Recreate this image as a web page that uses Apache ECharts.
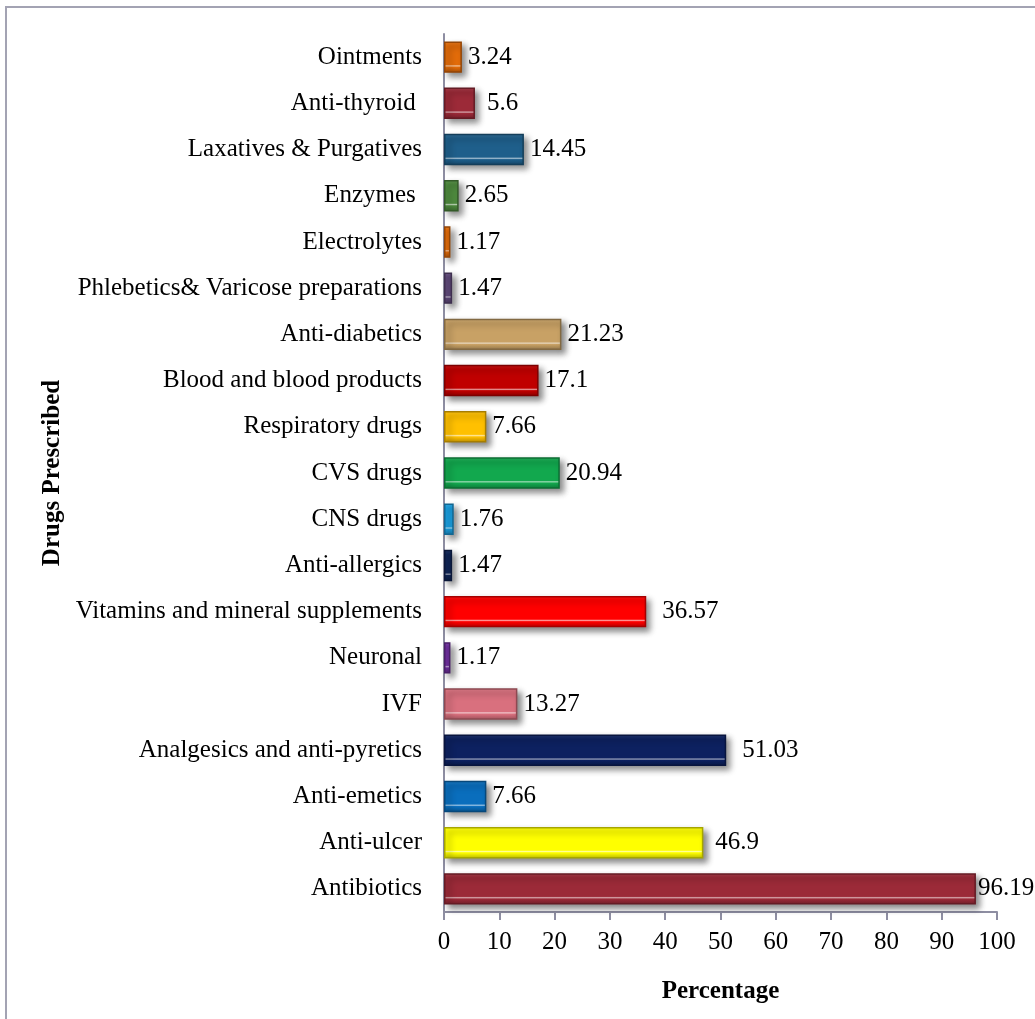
<!DOCTYPE html>
<html>
<head>
<meta charset="utf-8">
<script src="https://cdn.jsdelivr.net/npm/echarts@6/dist/echarts.min.js"></script>
<style>
  html, body { margin: 0; padding: 0; background: #fff; }
  #main { width: 1035px; height: 1019px; }
</style>
</head>
<body>
<div id="main"></div>
<script>
// categories from top to bottom as they appear in the chart
var categories = [
  'Ointments', 'Anti-thyroid ', 'Laxatives & Purgatives', 'Enzymes ', 'Electrolytes',
  'Phlebetics& Varicose preparations', 'Anti-diabetics', 'Blood and blood products',
  'Respiratory drugs', 'CVS drugs', 'CNS drugs', 'Anti-allergics',
  'Vitamins and mineral supplements', 'Neuronal', 'IVF', 'Analgesics and anti-pyretics',
  'Anti-emetics', 'Anti-ulcer', 'Antibiotics'
];
var percentages = [3.24, 5.6, 14.45, 2.65, 1.17, 1.47, 21.23, 17.1, 7.66, 20.94, 1.76, 1.47,
  36.57, 1.17, 13.27, 51.03, 7.66, 46.9, 96.19];
var xTicks = [0, 10, 20, 30, 40, 50, 60, 70, 80, 90, 100];

// bar fill colours, same order
var barColors = ['#E36C0A', '#9C2A38', '#1F5F8B', '#4E8A3E', '#E36C0A', '#5F497A', '#C8A165',
  '#C00000', '#FFC000', '#12A84E', '#1B9FE0', '#0F2456', '#FF0000', '#7030A0', '#D9707E',
  '#0D2160', '#0A6EBD', '#FFFF00', '#9B2A38'];
// extra gap for a few labels that sit further from the bar
var labelGaps = [6, 12, 6, 6, 6, 6, 6, 6, 6, 6, 6, 6, 16, 6, 6, 16, 6, 12, 2];

function shade(hex, f) {
  var n = parseInt(hex.slice(1), 16);
  var r = (n >> 16) & 255, g = (n >> 8) & 255, b = n & 255;
  if (f < 0) { r = r * (1 + f); g = g * (1 + f); b = b * (1 + f); }
  else { r = r + (255 - r) * f; g = g + (255 - g) * f; b = b + (255 - b) * f; }
  return 'rgb(' + Math.round(r) + ',' + Math.round(g) + ',' + Math.round(b) + ')';
}

var chart = echarts.init(document.getElementById('main'));
var serif = "'Liberation Serif', 'DejaVu Serif', serif";

var option = {
  animation: false,
  backgroundColor: '#fff',
  graphic: [{
    type: 'rect',
    shape: { x: 6, y: 7, width: 1200, height: 1200 },
    style: { fill: 'none', stroke: '#a3a3b3', lineWidth: 2 },
    silent: true
  }],
  grid: { left: 444, right: 38, top: 34, bottom: 107 },
  xAxis: {
    type: 'value',
    min: 0,
    max: 100,
    interval: 10,
    name: 'Percentage',
    nameLocation: 'middle',
    nameGap: 67,
    nameTextStyle: { fontFamily: serif, fontSize: 25, fontWeight: 'bold', color: '#000' },
    axisLine: { show: true, lineStyle: { color: '#8e8ea2', width: 2 } },
    axisTick: { show: true, length: 8, lineStyle: { color: '#8e8ea2', width: 2 } },
    splitLine: { show: false },
    axisLabel: {
      margin: 18, fontFamily: serif, fontSize: 25, color: '#000',
      formatter: function (v) { return xTicks.indexOf(v) >= 0 ? String(v) : ''; }
    }
  },
  yAxis: {
    type: 'category',
    inverse: true,
    data: categories,
    name: 'Drugs Prescribed',
    nameLocation: 'middle',
    nameRotate: 90,
    nameGap: 379,
    nameTextStyle: { fontFamily: serif, fontSize: 25, fontWeight: 'bold', color: '#000' },
    axisLine: { show: true, lineStyle: { color: '#8e8ea2', width: 2 } },
    axisTick: { show: false },
    axisLabel: { margin: 22, fontFamily: serif, fontSize: 25, color: '#000' }
  },
  series: [{
    type: 'bar',
    barWidth: '68%',
    data: percentages.map(function (v, i) {
      var c = barColors[i];
      return {
        value: v,
        itemStyle: {
          color: {
            type: 'linear', x: 0, y: 0, x2: 0, y2: 1,
            colorStops: [
              { offset: 0, color: shade(c, 0.08) },
              { offset: 0.15, color: c },
              { offset: 0.74, color: c },
              { offset: 0.78, color: shade(c, 0.6) },
              { offset: 0.82, color: c },
              { offset: 1, color: shade(c, -0.25) }
            ]
          },
          borderColor: shade(c, -0.35),
          borderWidth: 1.5,
          shadowColor: 'rgba(0,0,0,0.45)',
          shadowBlur: 6,
          shadowOffsetX: 4,
          shadowOffsetY: 4
        },
        label: { distance: labelGaps[i] }
      };
    }),
    label: {
      show: true,
      position: 'right',
      fontFamily: serif,
      fontSize: 25,
      color: '#000'
    }
  }]
};

chart.setOption(option);
</script>
</body>
</html>
